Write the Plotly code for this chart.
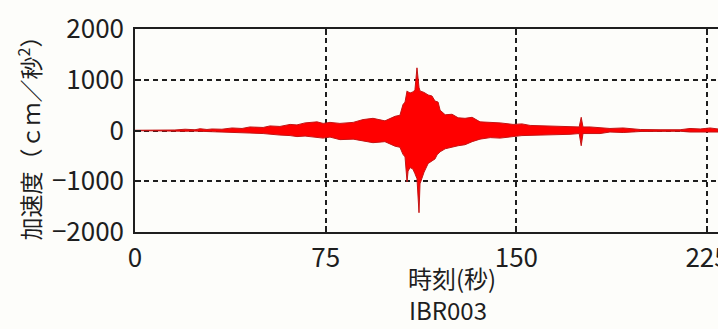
import plotly.graph_objects as go

# Envelope of the acceleration record (time in seconds, upper / lower peak in cm/s^2)
time_s = [0, 3.9, 9.8, 15.7, 19.7, 23.6, 25.6, 28.3, 30.3, 34.2, 38.2, 42.1,
          45.2, 50.4, 53.1, 57.0, 61.0, 63.7, 66.9, 71.6, 74.0, 76.7, 80.6,
          85.8, 89.7, 93.6, 98.3, 100.3, 102.3, 104.2, 105.4, 106.2, 107.0,
          107.4, 108.2, 109.3, 110.1, 110.9, 111.3, 111.7, 112.1, 113.7, 115.3,
          116.8, 118.0, 118.8, 119.2, 120.0, 122.0, 124.7, 127.1, 129.8, 132.6,
          135.7, 139.7, 143.6, 148.7, 152.2, 155.4, 161.3, 167.2, 171.1, 174.7,
          175.5, 176.2, 179.0, 182.9, 186.8, 192.0, 198.7, 206.5, 214.4, 218.3,
          222.3, 226.2, 229.3]
upper = [5, 5, 8, 10, 25, 15, 35, 20, 30, 25, 50, 40,
         70, 60, 90, 80, 120, 110, 150, 170, 140, 160, 140,
         160, 215, 240, 190, 240, 280, 300, 510, 560, 780,
         760, 740, 760, 800, 1235, 950, 850, 780, 750, 700,
         680, 580, 560, 560, 400, 310, 320, 250, 240, 260,
         170, 160, 150, 120, 130, 100, 90, 95, 80, 70,
         260, 70, 70, 60, 40, 50, 20, 15, 15, 40,
         30, 50, 30]
lower = [-5, -5, -8, -8, -15, -12, -20, -25, -15, -20, -30, -45,
         -50, -60, -70, -90, -100, -120, -110, -140, -150, -130, -180,
         -170, -200, -240, -220, -260, -310, -330, -470, -520, -1010,
         -800, -730, -760, -850, -950, -1100, -1620, -1050, -820, -650,
         -600, -560, -480, -470, -420, -360, -330, -300, -280, -220,
         -170, -140, -150, -120, -100, -90, -85, -80, -75, -60,
         -300, -60, -55, -60, -30, -40, -20, -15, -15, -30,
         -40, -30, -30]

x_ticks = [0, 75, 150, 225]
y_ticks = [-2000, -1000, 0, 1000, 2000]
station = "IBR003"

FONT = "Noto Sans CJK JP"
INK = "#1e1e1e"

fig = go.Figure()
fig.add_trace(go.Scatter(
    x=time_s + time_s[::-1],
    y=upper + lower[::-1],
    mode="lines",
    fill="toself",
    fillcolor="#ff0000",
    line=dict(color="#c41414", width=1),
    hoverinfo="skip",
    showlegend=False,
))

axis_common = dict(
    showline=True, linecolor=INK, linewidth=1.5,
    ticks="inside", ticklen=6, tickcolor=INK, tickwidth=1.5,
    showgrid=True, gridcolor=INK, gridwidth=1.5, griddash="5px,4px",
    zeroline=False, automargin=False,
    tickfont=dict(family=FONT, size=26, color=INK),
)

fig.update_xaxes(range=[0, 229.3], tickvals=x_ticks, mirror="allticks",
                 ticklabelstandoff=2, ticklabeloverflow="allow", **axis_common)
fig.update_yaxes(range=[-2000, 2000], tickvals=y_ticks, mirror=False,
                 ticklabelstandoff=4, **axis_common)

fig.add_annotation(text="加速度（ｃｍ／秒<sup>2</sup>）", textangle=-90,
                   xref="paper", yref="paper", x=-0.182, y=0.49,
                   xanchor="center", yanchor="middle", showarrow=False,
                   font=dict(family=FONT, size=23, color=INK))
fig.add_annotation(text="時刻(秒)", xref="paper", yref="paper",
                   x=0.544, y=-0.222, xanchor="center", yanchor="middle",
                   showarrow=False, font=dict(family=FONT, size=24, color=INK))
fig.add_annotation(text=station, xref="paper", yref="paper",
                   x=0.537, y=-0.384, xanchor="center", yanchor="middle",
                   showarrow=False, font=dict(family=FONT, size=24, color=INK))

fig.update_layout(
    width=718, height=329,
    margin=dict(l=135, r=0, t=29, b=97, autoexpand=False),
    paper_bgcolor="#fdfdfa", plot_bgcolor="#fdfdfa",
)

fig.write_html("out.html")
